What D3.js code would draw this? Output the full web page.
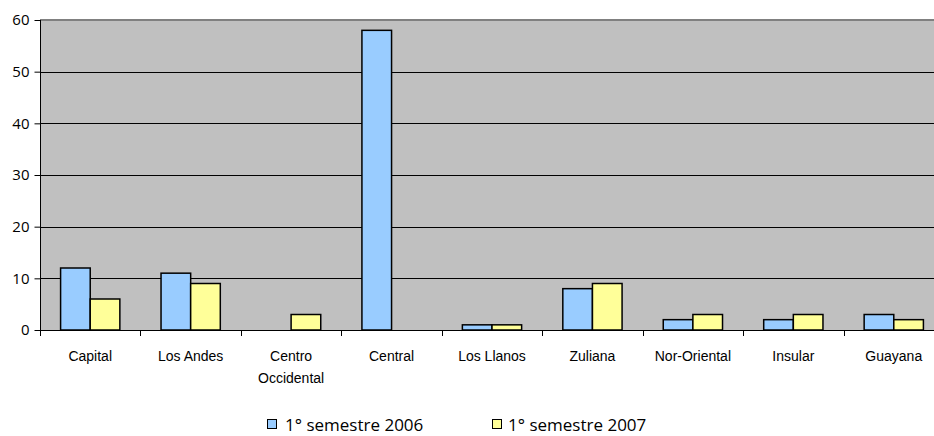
<!DOCTYPE html>
<html>
<head>
<meta charset="utf-8">
<script src="https://cdn.jsdelivr.net/npm/d3@7"></script>
<style>
  body { margin: 0; background: #fff; }
  svg { display: block; }
</style>
</head>
<body>
<div id="chart"></div>
<script>
// data
var regions = ["Capital", "Los Andes", "Centro Occidental", "Central", "Los Llanos", "Zuliana", "Nor-Oriental", "Insular", "Guayana"];
var s2006 = [12, 11, 0, 58, 1, 8, 2, 2, 3];
var s2007 = [6, 9, 3, 0, 1, 9, 3, 3, 2];
var seriesNames = ["1° semestre 2006", "1° semestre 2007"];
var yTicks = [0, 10, 20, 30, 40, 50, 60];

var svgWidth = 934;
var svgHeight = 436;

// plot area runs past the right edge in the original, so it gets clipped
var margin = { top: 20, left: 40 };
var plotRight = 944;
var plotBottom = 330;

var colors = ["#99ccff", "#ffff99"];

var svg = d3.select("#chart")
    .append("svg")
    .attr("width", svgWidth)
    .attr("height", svgHeight);

var data = regions.map(function (r, i) {
    return { region: r, values: [s2006[i], s2007[i]] };
});

var x0 = d3.scaleBand()
    .domain(regions)
    .range([margin.left, plotRight])
    .paddingInner(0.41)
    .paddingOuter(0.205);

var x1 = d3.scaleBand()
    .domain([0, 1])
    .range([0, x0.bandwidth()]);

var y = d3.scaleLinear()
    .domain([0, 60])
    .range([plotBottom, margin.top]);

// plot background
svg.append("rect")
    .attr("x", margin.left)
    .attr("y", margin.top)
    .attr("width", plotRight - margin.left)
    .attr("height", plotBottom - margin.top)
    .attr("fill", "#c0c0c0");

// gridlines
svg.append("g")
    .selectAll("line")
    .data(yTicks.filter(function (d) { return d > 0 && d < 60; }))
    .enter()
    .append("line")
    .attr("x1", margin.left)
    .attr("x2", plotRight)
    .attr("y1", function (d) { return Math.round(y(d)) + 0.5; })
    .attr("y2", function (d) { return Math.round(y(d)) + 0.5; })
    .attr("stroke", "#000")
    .attr("stroke-width", 1);

// top border
svg.append("line")
    .attr("x1", margin.left)
    .attr("x2", plotRight)
    .attr("y1", margin.top)
    .attr("y2", margin.top)
    .attr("stroke", "#808080")
    .attr("stroke-width", 2);

// bars
var groups = svg.append("g")
    .selectAll("g")
    .data(data)
    .enter()
    .append("g")
    .attr("transform", function (d) { return "translate(" + x0(d.region) + ",0)"; });

groups.selectAll("rect")
    .data(function (d) { return d.values.map(function (v, i) { return { i: i, v: v }; }); })
    .enter()
    .filter(function (d) { return d.v > 0; })
    .append("rect")
    .attr("x", function (d) { return x1(d.i); })
    .attr("y", function (d) { return y(d.v); })
    .attr("width", x1.bandwidth())
    .attr("height", function (d) { return y(0) - y(d.v); })
    .attr("fill", function (d) { return colors[d.i]; })
    .attr("stroke", "#000")
    .attr("stroke-width", 1.5);

// y axis
var leftAxis = d3.axisLeft(y)
    .tickValues(yTicks)
    .tickSize(6)
    .tickPadding(5);

var yAxisG = svg.append("g")
    .attr("transform", "translate(" + (margin.left + 0.5) + ",0)")
    .call(leftAxis);
yAxisG.select(".domain").attr("stroke", "#000").attr("d", "M0," + margin.top + "V" + plotBottom);
yAxisG.selectAll("line").attr("stroke", "#000");
yAxisG.selectAll("text")
    .attr("font-family", "'Open Sans', sans-serif")
    .attr("font-size", "15px")
    .attr("fill", "#000");

// x axis: ticks at category boundaries
var step = x0.step();
var xAxisG = svg.append("g");
xAxisG.append("line")
    .attr("x1", margin.left)
    .attr("x2", plotRight)
    .attr("y1", plotBottom + 0.5)
    .attr("y2", plotBottom + 0.5)
    .attr("stroke", "#000");
xAxisG.selectAll(".xtick")
    .data(d3.range(regions.length + 1))
    .enter()
    .append("line")
    .attr("class", "xtick")
    .attr("x1", function (i) { return Math.round(margin.left + i * step) + 0.5; })
    .attr("x2", function (i) { return Math.round(margin.left + i * step) + 0.5; })
    .attr("y1", plotBottom)
    .attr("y2", plotBottom + 6)
    .attr("stroke", "#000");

// category labels (wrap Centro Occidental)
var labels = svg.append("g")
    .selectAll("text")
    .data(regions)
    .enter()
    .append("text")
    .attr("x", function (d) { return x0(d) + x0.bandwidth() / 2; })
    .attr("y", 361)
    .attr("text-anchor", "middle")
    .attr("font-family", "'Liberation Sans', Arial, sans-serif")
    .attr("font-size", "14px")
    .attr("fill", "#000");

labels.each(function (d) {
    var t = d3.select(this);
    var parts = d === "Centro Occidental" ? ["Centro", "Occidental"] : [d];
    parts.forEach(function (p, k) {
        t.append("tspan")
            .attr("x", x0(d) + x0.bandwidth() / 2)
            .attr("dy", k === 0 ? 0 : 22)
            .text(p);
    });
});

// legend
var legendItems = [
    { x: 267, tx: 285 },
    { x: 492, tx: 508 }
];
var legend = svg.append("g")
    .selectAll("g")
    .data(seriesNames)
    .enter()
    .append("g");

legend.append("rect")
    .attr("x", function (d, i) { return legendItems[i].x + 0.5; })
    .attr("y", 419.5)
    .attr("width", 9)
    .attr("height", 9)
    .attr("fill", function (d, i) { return colors[i]; })
    .attr("stroke", "#000")
    .attr("stroke-width", 1);

legend.append("text")
    .attr("x", function (d, i) { return legendItems[i].tx; })
    .attr("y", 431)
    .attr("font-family", "'Open Sans', sans-serif")
    .attr("font-size", "17px")
    .attr("fill", "#000")
    .text(function (d) { return d; });
</script>
</body>
</html>
